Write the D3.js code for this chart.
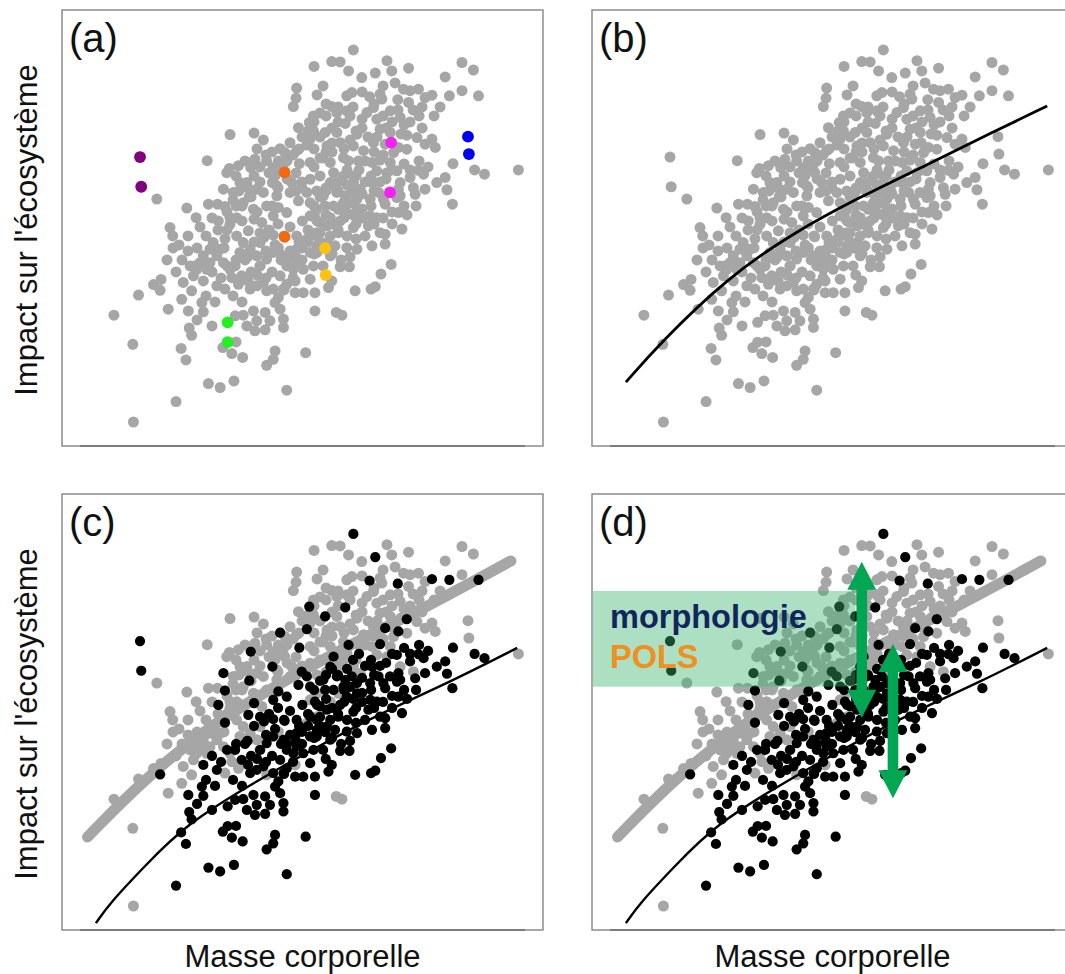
<!DOCTYPE html>
<html>
<head>
<meta charset="utf-8">
<script src="https://cdn.jsdelivr.net/npm/d3@7"></script>
<style>
  body { margin: 0; background: #fff; }
  svg { display: block; }
  text { font-family: Arial, "Liberation Sans", sans-serif; }
</style>
</head>
<body>
<div id="chart"></div>
<script>
// Nuage d'espèces : [masse, impact, groupe] (groupe 0 = gris / 1 = noir dans c et d)
const cloud = [
  [84.0,126.5,0],[78.2,119.3,0],[78.0,115.9,0],[77.1,113.1,0],[83.8,110.0,0],[82.4,107.8,1],[78.8,106.1,0],
  [83.8,105.0,0],[81.6,100.3,1],[56.0,103.8,0],[64.0,104.3,0],[67.1,102.0,0],[72.7,99.1,1],[76.0,101.1,0],
  [74.3,97.8,0],[78.2,98.4,0],[82.7,102.3,0],[48.4,95.1,0],[54.9,91.1,0],[55.8,92.5,0],
  [58.8,93.4,0],[62.9,92.8,1],[64.3,95.6,0],[68.2,95.0,0],[70.4,92.8,0],[72.1,95.0,0],[73.8,93.9,0],
  [79.1,94.1,1],[82.7,94.5,0],[31.6,82.3,0],[41.6,79.3,0],[44.7,76.1,0],[48.8,80.6,0],[51.8,80.6,0],
  [53.8,85.6,1],[54.3,79.8,1],[59.3,87.8,0],[61.6,87.8,0],[62.4,83.1,1],[64.9,85.6,0],[67.1,84.5,0],
  [70.1,87.8,1],[71.6,86.7,0],[76.6,87.8,0],[79.9,86.1,1],[82.7,88.9,0],[78.8,81.7,1],
  [81.6,84.5,1],[82.7,81.1,1],[84.9,85.0,0],[36.0,72.8,0],[36.9,70.0,0],[52.1,75.0,1],[54.3,69.1,1],
  [56.0,73.9,0],[58.2,76.1,0],[62.1,71.7,1],[64.0,75.6,1],[66.6,74.5,0],[67.3,69.5,1],[70.4,70.3,1],
  [70.4,76.7,1],[72.1,79.5,1],[74.9,77.8,1],[80.1,75.0,1],[82.7,76.7,0],[84.3,76.1,1],[82.7,71.1,1],
  [78.2,70.0,1],[84.9,70.0,1],[42.7,60.0,0],[43.8,56.7,0],[40.4,54.5,0],[43.2,51.7,0],
  [39.9,48.9,0],[35.4,45.6,0],[47.1,63.4,0],[49.3,61.1,0],[48.2,58.9,0],[52.7,65.6,0],[53.8,61.1,0],
  [56.0,58.9,0],[57.7,60.0,1],[59.9,56.7,1],[56.6,56.1,0],[58.8,53.9,0],[54.3,52.3,0],[47.1,55.0,1],
  [51.6,53.4,1],[32.7,51.9,1],[61.8,63.0,1],[64.9,63.4,0],[66.0,60.0,0],[68.2,62.3,1],[70.4,64.5,1],
  [72.1,66.1,0],[73.8,63.4,1],[74.9,60.0,1],[77.1,58.9,1],[78.2,65.6,1],[81.6,68.9,0],[82.7,64.5,1],
  [78.2,61.1,1],[80.4,58.9,1],[83.8,60.0,1],[84.9,64.5,1],[77.7,55.0,0],[72.7,56.7,1],[74.9,53.9,1],
  [77.7,51.1,1],[80.4,51.1,1],[84.3,51.1,1],[82.7,55.6,1],[62.7,52.3,1],[64.9,53.4,1],[67.1,54.5,1],
  [68.2,51.7,0],[70.4,52.3,1],[72.1,49.5,1],[73.8,52.3,1],[71.0,47.8,1],[72.7,45.6,1],[46.6,47.8,1],
  [47.1,44.7,1],[42.1,45.0,1],[57.7,43.4,1],[60.4,43.6,1],[63.8,45.0,1],[67.7,44.5,1],
  [64.9,41.7,1],[61.6,40.0,1],[64.3,38.4,1],[67.7,38.7,1],[69.3,41.7,1],[73.8,39.5,1],[73.8,42.3,1],
  [84.3,45.0,1],[42.4,39.3,1],[43.2,36.9,1],[39.7,32.5,1],[41.3,28.7,1],[58.0,34.7,1],
  [53.6,32.8,1],[56.6,30.8,1],[60.2,29.5,1],[71.0,31.7,1],[70.4,28.9,1],[68.2,26.9,1],[81.2,31.1,1],
  [23.6,33.9,0],[48.8,20.8,1],[52.7,19.5,1],[57.3,21.7,1],[74.9,18.6,1],[38.0,14.8,1],[23.8,8.0,0],
  [57.1,84.5,0],[60.4,81.1,0],[63.8,78.9,0],[68.2,80.0,0],[71.6,83.4,0],[76.0,84.5,0],[58.2,70.0,0],
  [60.4,67.8,0],[62.7,65.6,0],[66.0,67.8,0],[59.3,64.5,0],[50.4,67.8,0],[51.6,63.4,0],[49.3,65.6,0],
  [44.9,58.9,0],[46.0,61.1,0],
  [97.1,132.0,1],[89.9,128.1,0],[92.7,128.0,0],[95.5,125.0,0],[99.9,122.8,0],[104.4,124.3,1],
  [108.3,128.4,0],[109.9,125.0,0],[115.5,125.9,0],[133.3,127.8,0],[137.1,125.3,0],[127.7,123.0,0],
  [94.9,116.7,0],[96.6,117.8,0],[102.5,116.4,1],[106.0,117.3,0],[106.6,115.6,0],[111.9,115.4,1],
  [115.5,114.5,0],[113.8,118.9,0],[116.0,118.4,0],[118.8,118.9,0],[121.0,116.1,0],[123.3,116.9,1],
  [129.1,116.7,1],[133.3,118.4,0],[138.8,116.7,1],[89.9,113.1,0],[91.6,111.1,0],[94.9,111.7,0],
  [101.6,111.1,0],[103.8,112.8,0],[109.4,111.7,0],[112.7,109.5,0],[94.4,107.5,1],[87.7,104.5,1],
  [91.6,104.5,0],[98.3,103.9,0],[104.9,108.9,0],[106.0,105.6,0],[109.4,104.5,0],[114.9,103.6,1],
  [118.3,102.8,0],[121.0,100.6,0],[124.4,99.5,0],[123.3,102.3,0],
  [88.3,100.0,0],[92.7,101.1,0],[97.1,100.0,0],[100.5,98.4,0],[103.8,101.1,0],[107.7,100.6,1],
  [112.1,99.5,1],[114.9,98.9,0],[110.5,97.8,0],[89.4,94.5,0],[93.8,96.1,0],[95.5,95.0,1],[98.8,95.0,0],
  [103.3,94.5,0],[106.0,95.3,1],[109.4,94.5,0],[111.6,91.7,1],[104.9,91.7,0],[108.3,91.1,0],
  [130.3,94.1,1],[137.5,92.0,1],[140.8,90.6,1],[152.1,92.0,0],[90.5,91.1,1],[89.4,87.8,1],[93.8,90.0,0],
  [97.1,87.8,0],[103.3,87.8,1],[99.4,85.6,0],[96.0,86.7,0],[112.7,87.8,0],
  [112.1,85.6,1],[116.0,89.5,1],[118.8,91.9,1],[120.5,90.6,1],[117.1,86.1,0],[117.7,83.9,1],
  [121.0,85.6,1],[124.9,87.8,1],[127.7,89.5,1],[128.3,85.4,1],[130.1,80.6,1],[112.7,83.4,1],
  [87.1,83.4,1],[91.6,84.5,1],[94.4,83.4,1],[96.6,84.5,1],[98.3,82.3,1],[102.7,82.3,1],[105.5,84.5,1],
  [107.1,82.3,1],[107.7,80.6,1],[111.6,82.8,1],[87.7,80.0,1],[84.9,78.9,0],[90.5,80.0,1],[93.8,81.1,1],
  [92.1,78.9,0],[94.9,77.8,1],[98.3,78.9,1],[102.7,76.7,1],[104.9,76.1,1],[112.1,77.8,1],[89.4,76.1,0],
  [86.0,74.5,1],[88.3,73.4,1],[92.7,75.0,1],[97.1,72.8,1],[102.1,73.4,1],[106.0,71.1,1],[107.7,70.6,1],
  [113.3,72.3,1],[84.9,71.1,0],[89.4,70.0,1],[92.1,71.1,1],[84.9,66.7,1],[88.3,67.8,1],[91.0,66.7,1],
  [94.9,66.1,1],[98.3,65.6,1],[103.3,66.7,1],[107.7,67.3,1],[89.4,63.4,1],[92.7,59.7,1],
  [95.8,59.7,1],[109.7,60.5,1],[106.3,57.3,1],[89.9,55.0,1],[88.8,52.8,1],[97.7,51.7,1],[103.0,52.3,1],
  [104.4,53.1,1],[91.4,44.5,0],[93.3,43.6,0],
  // partie dense du nuage
  [60,80,0],[63,83,0],[66,88,0],[69,91,0],[72,86,0],[75,89,0],[78,91,0],[80,88,0],[84,93,0],[87,96,0],
  [90,98,0],[86,90,0],[88,86,0],[92,88,0],[95,92,0],[98,90,0],[101,95,0],[104,98,0],[107,97,0],
  [113,104,0],[116,108,0],[119,110,0],[100,106,0],[96,110,0],[92,113,0],[88,110,0],[104,114,0],
  [108,106,0],[112,112,0],[45,66,0],[48,70,0],[52,72,0],[56,76,0],[58,80,0],[40,62,0],[44,60,0],
  [54,66,0],[38,58,0],[17.3,43.6,0],[25.5,50.3,0],[30.5,53.8,0],[33,55.5,0],[55,72,0],[60,75,0],
  [65,78,0],[70,80,0],[78,85,0],
  [55,78,0],[57,82,0],[59,85,0],[62,86,0],[64,90,0],[66,93,0],[68,97,0],[70,98,0],[58,90,0],[61,95,0],
  [65,99,0],[71,90,0],[73,92,0],[75,95,0],[77,97,0],[79,99,0],[80,103,0],[82,105,0],[84,108,0],
  [86,111,0],[88,114,0],[86,103,0],[84,99,0],[86,96,0],[88,98,0],[90,101,0],[90,106,0],[92,108,0],
  [85,117,0],[87,120,0],[94,99,0],[96,102,0],[98,105,0],[100,109,0],[102,103,0],[105,103,0],
  [107,110,0],[110,108,0],[97,113,0],[100,118,0],[107,120,0],[111,121,0],[114,107,0],[117,112,0],
  [120,113,0],[124,110,0],[126,113,0],[120,106,0],[35,62,0],[37,66,0],[42,70,0],[46,73,0],[50,76,0],
  [42,65,0],[39,67,0],
  [70,58,1],[73,62,1],[76,65,1],[79,68,1],[82,72,1],[85,75,1],[88,77,1],[94,80,1],[97,77,1],[100,79,1],
  [103,80,1],[86,68,1],[92,72,1],[95,70,1],[98,69,1],[101,70,1],[104,74,1],[107,76,1],[110,78,1],
  [80,62,1],[84,64,1],[77,56,1],[74,52,1],[68,56,1],[66,60,1],[63,58,1],[90,64,1],[93,62,1],[96,63,1],
  [87,60,1],[60,48,1],[57,50,1],
  [62,55,1],[65,57,1],[68,65,1],[71,67,1],[74,70,1],[76,73,1],[72,74,1],[69,72,1],[66,71,1],[64,68,1],
  [61,62,1],[58,62,1],[75,62,1],[78,63,1],[80,66,1],[82,68,1],[84,80,1],[86,83,1],[88,85,1],[90,87,1],
  [92,85,1],[95,87,1],[97,90,1],[99,92,1],[101,88,1],[103,90,1],[86,71,1],[90,74,1],[94,76,1],[98,74,1],
  [100,76,1],[96,81,1],[100,84,1],[104,85,1],[106,88,1],[108,89,1],[110,92,1],[114,94,1],[116,92,1],
  [119,95,1],[122,93,1],[114,80,1],[118,80,1],[110,74,1],[115,77,1],[48,50,1],[51,48,1],[53,56,1],
  [50,58,1],[55,60,1],[45,42,1],[50,40,1]
];

// Paires d'espèces mises en évidence dans (a) : [masse, impact, groupe, espèce]
const highlighted = [
  [26.0,96.3,1,"sp1"],[26.4,86.4,1,"sp1"],
  [74.2,91.2,0,"sp2"],[74.2,69.7,1,"sp2"],
  [109.7,101.1,0,"sp3"],[109.3,84.5,1,"sp3"],
  [135.3,103.1,0,"sp4"],[135.6,97.3,0,"sp4"],
  [87.7,65.9,1,"sp5"],[87.9,57.0,1,"sp5"],
  [55.2,41.2,1,"sp6"],[55.2,34.6,1,"sp6"]
];
const speciesColor = { sp1: "#800080", sp2: "#f26a10", sp3: "#f522f5", sp4: "#0000f0", sp5: "#ffc20e", sp6: "#22f022" };

// Ajustements
const fitAll = [[11.3,21.3],[22.7,34.3],[45.0,56.0],[67.0,71.0],[89.3,83.0],[111.7,93.7],[133.7,104.7],[151.7,113.3]];
const fitUpper = [[8.5,31.0],[27.0,50.0],[50.8,69.3],[74.6,83.3],[98.3,96.3],[122.2,108.0],[149.6,123.0]];
const fitLower = [[11.3,2.3],[16.0,9.0],[27.0,20.7],[41.7,35.7],[66.0,50.3],[82.7,59.7],[105.0,71.7],[129.3,82.6],[151.7,94.0]];

const panelLabels = ["(a)", "(b)", "(c)", "(d)"];
const xTitle = "Masse corporelle";
const yTitle = "Impact sur l'écosystème";
const traitLabels = ["morphologie", "POLS"];
const traitBox = [0, 81.1, 87.7, 113.0];            // masse0, impact0, masse1, impact1
const shiftArrows = [[89.9, 122.7, 70.7], [100.3, 95.3, 43.9]]; // masse, haut, bas

const W = 481, H = 436;
const panels = [
  { label: panelLabels[0], left: 62, top: 10, mode: "highlight", yTitle: true },
  { label: panelLabels[1], left: 592, top: 10, mode: "fit" },
  { label: panelLabels[2], left: 62, top: 494, mode: "groups", yTitle: true, xTitle: true },
  { label: panelLabels[3], left: 592, top: 494, mode: "groups", xTitle: true, annotate: true }
];

const x = d3.scaleLinear().domain([0, 160.3]).range([0, W]);
const y = d3.scaleLinear().domain([0, 145.3]).range([H, 0]);
const line = d3.line().x(d => x(d[0])).y(d => y(d[1])).curve(d3.curveBasis);

const GREY = "#a6a6a6";
const R = 5.5;
const allPts = cloud.concat(highlighted.map(d => [d[0], d[1], d[2]]));

const svg = d3.select("#chart").append("svg")
  .attr("width", 1065)
  .attr("height", 974);

panels.forEach(p => {
  const g = svg.append("g").attr("transform", `translate(${p.left},${p.top})`);

  if (p.mode === "groups") {
    g.append("g").selectAll("circle")
      .data(allPts.filter(d => d[2] === 0)).enter().append("circle")
      .attr("cx", d => x(d[0])).attr("cy", d => y(d[1])).attr("r", R).attr("fill", GREY);
    g.append("path").datum(fitUpper)
      .attr("d", line).attr("fill", "none")
      .attr("stroke", GREY).attr("stroke-width", 11).attr("stroke-linecap", "round");
    g.append("g").selectAll("circle")
      .data(allPts.filter(d => d[2] === 1)).enter().append("circle")
      .attr("cx", d => x(d[0])).attr("cy", d => y(d[1])).attr("r", R * 0.93).attr("fill", "#000");
    g.append("path").datum(fitLower)
      .attr("d", line).attr("fill", "none")
      .attr("stroke", "#000").attr("stroke-width", 2.4);
  } else {
    g.append("g").selectAll("circle")
      .data(allPts).enter().append("circle")
      .attr("cx", d => x(d[0])).attr("cy", d => y(d[1])).attr("r", R).attr("fill", GREY);
  }

  if (p.mode === "highlight") {
    g.append("g").selectAll("circle")
      .data(highlighted).enter().append("circle")
      .attr("cx", d => x(d[0])).attr("cy", d => y(d[1])).attr("r", R + 0.4)
      .attr("fill", d => speciesColor[d[3]]);
  }

  if (p.mode === "fit") {
    g.append("path").datum(fitAll)
      .attr("d", line).attr("fill", "none")
      .attr("stroke", "#000").attr("stroke-width", 2.8);
  }

  if (p.annotate) {
    g.append("rect")
      .attr("x", x(traitBox[0]) + 1).attr("y", y(traitBox[3]))
      .attr("width", x(traitBox[2]) - x(traitBox[0]) - 1)
      .attr("height", y(traitBox[1]) - y(traitBox[3]))
      .attr("fill", "#3cb371").attr("fill-opacity", 0.42);
    g.append("text").text(traitLabels[0])
      .attr("x", 18).attr("y", 134)
      .attr("font-size", 32.5).attr("font-weight", "bold").attr("fill", "#10265c");
    g.append("text").text(traitLabels[1])
      .attr("x", 18).attr("y", 174)
      .attr("font-size", 32.5).attr("font-weight", "bold").attr("fill", "#f0901f");

    // flèches doubles
    const hl = 28, hw = 14.5, sw = 5.3;
    shiftArrows.forEach(a => {
      const cx = x(a[0]), t = y(a[1]), b = y(a[2]);
      const pts = [[cx, t], [cx + hw, t + hl], [cx + sw, t + hl], [cx + sw, b - hl], [cx + hw, b - hl],
                   [cx, b], [cx - hw, b - hl], [cx - sw, b - hl], [cx - sw, t + hl], [cx - hw, t + hl]];
      g.append("polygon")
        .attr("points", pts.map(q => q.join(",")).join(" "))
        .attr("fill", "#00a651");
    });
  }

  // cadre
  g.append("rect")
    .attr("x", 0).attr("y", 0).attr("width", W).attr("height", H)
    .attr("fill", "none").attr("stroke", "#8c8c8c").attr("stroke-width", 1.5);
  g.append("line")
    .attr("x1", 18).attr("x2", 463).attr("y1", H).attr("y2", H)
    .attr("stroke", "#6e6e6e").attr("stroke-width", 1.5);

  g.append("text").text(p.label)
    .attr("x", 7).attr("y", 42)
    .attr("font-size", 40).attr("fill", "#111");

  if (p.yTitle) {
    svg.append("text").text(yTitle)
      .attr("transform", `translate(37,${p.top + 220}) rotate(-90)`)
      .attr("text-anchor", "middle")
      .attr("font-size", 31).attr("fill", "#111");
  }
  if (p.xTitle) {
    svg.append("text").text(xTitle)
      .attr("x", p.left + W / 2).attr("y", 967)
      .attr("text-anchor", "middle")
      .attr("font-size", 31).attr("fill", "#111");
  }
});
</script>
</body>
</html>
